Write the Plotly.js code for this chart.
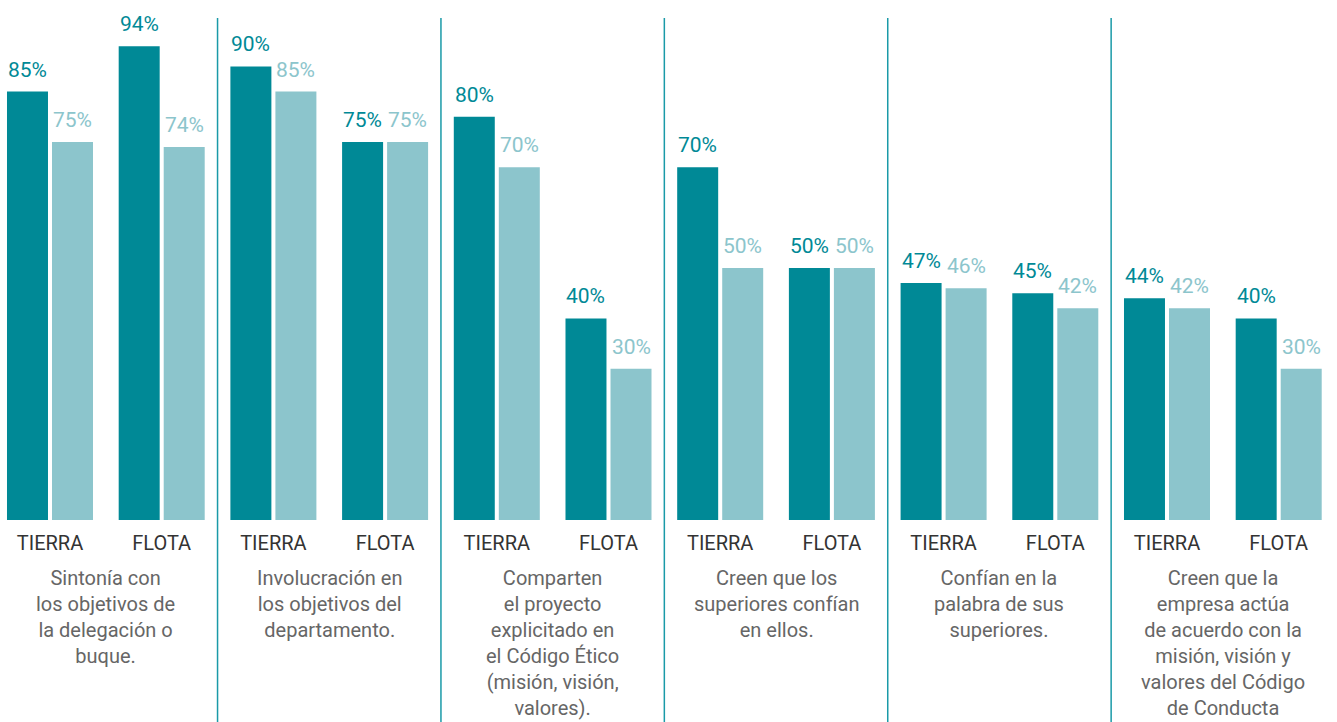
<!DOCTYPE html>
<html>
<head>
<meta charset="utf-8">
<script src="https://cdn.plot.ly/plotly-3.0.1.min.js"></script>
<style>html,body{margin:0;padding:0;background:#fff;}#chart{width:1337px;height:722px;}</style>
</head>
<body>
<div id="chart"></div>
<script>
const subgroups = ["TIERRA","FLOTA","TIERRA","FLOTA","TIERRA","FLOTA","TIERRA","FLOTA","TIERRA","FLOTA","TIERRA","FLOTA"];
const seriesA = [85,94,90,75,80,40,70,50,47,45,44,40];
const seriesB = [75,74,85,75,70,30,50,50,46,42,42,30];
const groupTexts = [
  "Sintonía con<br>los objetivos de<br>la delegación o<br>buque.",
  "Involucración en<br>los objetivos del<br>departamento.",
  "Comparten<br>el proyecto<br>explicitado en<br>el Código Ético<br>(misión, visión,<br>valores).",
  "Creen que los<br>superiores confían<br>en ellos.",
  "Confían en la<br>palabra de sus<br>superiores.",
  "Creen que la<br>empresa actúa<br>de acuerdo con la<br>misión, visión y<br>valores del Código<br>de Conducta"
];

const darkColor = "#008996";
const lightColor = "#8cc5cc";
const sepColor = "#1a9aa8";
const FONT = "Roboto, 'Open Sans', sans-serif";

const xs = subgroups.map((_, i) => i);
const barW = 0.367;

const traces = [
  {type:"bar", x: xs, y: seriesA, width: barW, offset: -0.385, marker:{color: darkColor}, hoverinfo:"skip"},
  {type:"bar", x: xs, y: seriesB, width: barW, offset: 0.018, marker:{color: lightColor}, hoverinfo:"skip"}
];

const annotations = [];
seriesA.forEach((v, i) => annotations.push({
  x: i - 0.2015, y: v, xref:"x", yref:"y", text: v + "%", showarrow:false,
  yanchor:"bottom", yshift: 8, font:{family:FONT, size:21, color: darkColor}
}));
seriesB.forEach((v, i) => annotations.push({
  x: i + 0.2015, y: v, xref:"x", yref:"y", text: v + "%", showarrow:false,
  yanchor:"bottom", yshift: 8, font:{family:FONT, size:21, color: lightColor}
}));
groupTexts.forEach((t, g) => annotations.push({
  x: 2*g + 0.5, y: 0, xref:"x", yref:"y", text: t, showarrow:false,
  yanchor:"top", yshift: -44, align:"center",
  font:{family:FONT, size:20, color:"#666666"}
}));

const shapes = [];
for (let g = 0; g < groupTexts.length - 1; g++) {
  shapes.push({type:"line", xref:"x", yref:"paper", x0: 2*g + 1.5, x1: 2*g + 1.5,
    y0: -0.41, y1: 0.996, line:{color: sepColor, width: 1.5}});
}

const layout = {
  width: 1337, height: 722,
  margin: {l:0, r:0, t:16, b:202, pad:0},
  paper_bgcolor:"#ffffff", plot_bgcolor:"#ffffff",
  showlegend:false,
  xaxis: {range:[-0.4476, 11.522], tickvals: xs, ticktext: subgroups,
    showgrid:false, zeroline:false, showline:false,
    ticks:"outside", ticklen:5, tickcolor:"rgba(0,0,0,0)",
    tickfont:{family:FONT, size:20, color:"#333333"}, fixedrange:true},
  yaxis: {range:[0,100], visible:false, fixedrange:true},
  annotations: annotations,
  shapes: shapes
};

Plotly.newPlot("chart", traces, layout, {displayModeBar:false, staticPlot:true});
</script>
</body>
</html>
